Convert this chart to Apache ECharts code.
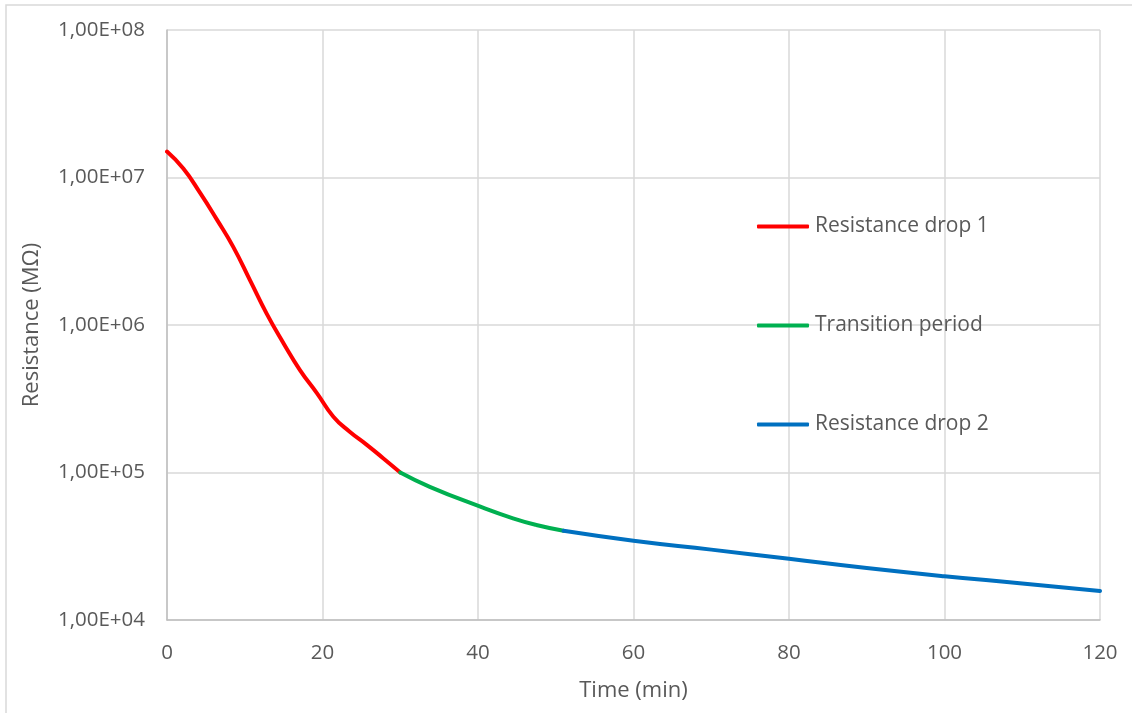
<!DOCTYPE html>
<html>
<head>
<meta charset="utf-8">
<script src="https://cdn.jsdelivr.net/npm/echarts@6/dist/echarts.min.js"></script>
<style>
  html, body { margin: 0; padding: 0; background: #fff; }
  #chart { width: 1132px; height: 713px; }
</style>
</head>
<body>
<div id="chart"></div>
<script>
// Time in minutes and resistance in MΩ for each phase of the measurement
const timeDrop1 = [0, 2.1, 4.3, 6.4, 8.5, 10.7, 12.8, 15, 17.1, 19.3, 21.4, 23.5, 25.7, 27.8, 30];
const resDrop1 = [1.5e7, 1.15e7, 7.8e6, 5.2e6, 3.4e6, 2.0e6, 1.2e6, 7.5e5, 4.95e5, 3.44e5, 2.39e5, 1.89e5, 1.54e5, 1.25e5, 1.0e5];

const timeTransition = [30, 33.8, 40.3, 44.5, 47.5, 51];
const resTransition = [1.0e5, 8.0e4, 5.86e4, 4.89e4, 4.41e4, 4.03e4];

const timeDrop2 = [51, 60, 70, 80, 90, 100, 110, 120];
const resDrop2 = [4.03e4, 3.45e4, 3.0e4, 2.6e4, 2.25e4, 1.98e4, 1.77e4, 1.57e4];

const seriesNames = ['Resistance drop 1', 'Transition period', 'Resistance drop 2'];
const seriesColors = ['#ff0000', '#00b050', '#0070c0'];

const pairs = (xs, ys) => xs.map((x, i) => [x, ys[i]]);

const FONT = '"Open Sans", "Noto Sans", sans-serif';
const TEXT = '#595959';
const GRID = '#d9d9d9';

function sciLabel(v) {
  const e = Math.round(Math.log10(v));
  return '1,00E+' + String(e).padStart(2, '0');
}

const chart = echarts.init(document.getElementById('chart'), null, { renderer: 'canvas' });

const legendTops = [211, 310, 409];

chart.setOption({
  backgroundColor: '#ffffff',
  animation: false,
  graphic: [{
    type: 'rect',
    shape: { x: 6, y: 5, width: 1140, height: 720 },
    style: { fill: 'none', stroke: GRID, lineWidth: 1.5 },
    silent: true,
    z: -1
  }],
  grid: { left: 167, right: 32, top: 30, bottom: 93, containLabel: false },
  xAxis: {
    type: 'value',
    min: 0, max: 120, interval: 20,
    name: 'Time (min)',
    nameLocation: 'middle',
    nameGap: 60,
    nameTextStyle: { color: TEXT, fontSize: 22, fontFamily: FONT },
    axisLine: { show: true, lineStyle: { color: '#bfbfbf', width: 1.5 } },
    axisTick: { show: false },
    axisLabel: { color: TEXT, fontSize: 20.5, fontFamily: FONT, margin: 23 },
    splitLine: { show: true, lineStyle: { color: GRID, width: 1.5 } }
  },
  yAxis: {
    type: 'log',
    logBase: 10,
    min: 1e4, max: 1e8,
    name: 'Resistance (MΩ)',
    nameLocation: 'middle',
    nameGap: 124,
    nameTextStyle: { color: TEXT, fontSize: 22, fontFamily: FONT },
    axisLine: { show: true, lineStyle: { color: '#bfbfbf', width: 1.5 } },
    axisTick: { show: false },
    axisLabel: { color: TEXT, fontSize: 20.5, fontFamily: FONT, margin: 22, formatter: sciLabel },
    splitLine: { show: true, lineStyle: { color: GRID, width: 1.5 } }
  },
  legend: seriesNames.map((name, i) => ({
    data: [name],
    left: 752,
    top: legendTops[i],
    itemWidth: 52,
    itemHeight: 4,
    itemGap: 0,
    icon: 'roundRect',
    selectedMode: false,
    textStyle: { color: TEXT, fontSize: 21, fontFamily: FONT, padding: [0, 0, 0, 1] }
  })),
  series: [
    { name: seriesNames[0], data: pairs(timeDrop1, resDrop1) },
    { name: seriesNames[1], data: pairs(timeTransition, resTransition) },
    { name: seriesNames[2], data: pairs(timeDrop2, resDrop2) }
  ].map((s, i) => ({
    type: 'line',
    name: s.name,
    data: s.data,
    smooth: 0.5,
    showSymbol: false,
    symbol: 'none',
    color: seriesColors[i],
    lineStyle: { color: seriesColors[i], width: 4, cap: 'round' },
    z: 3 + i
  }))
});
</script>
</body>
</html>
